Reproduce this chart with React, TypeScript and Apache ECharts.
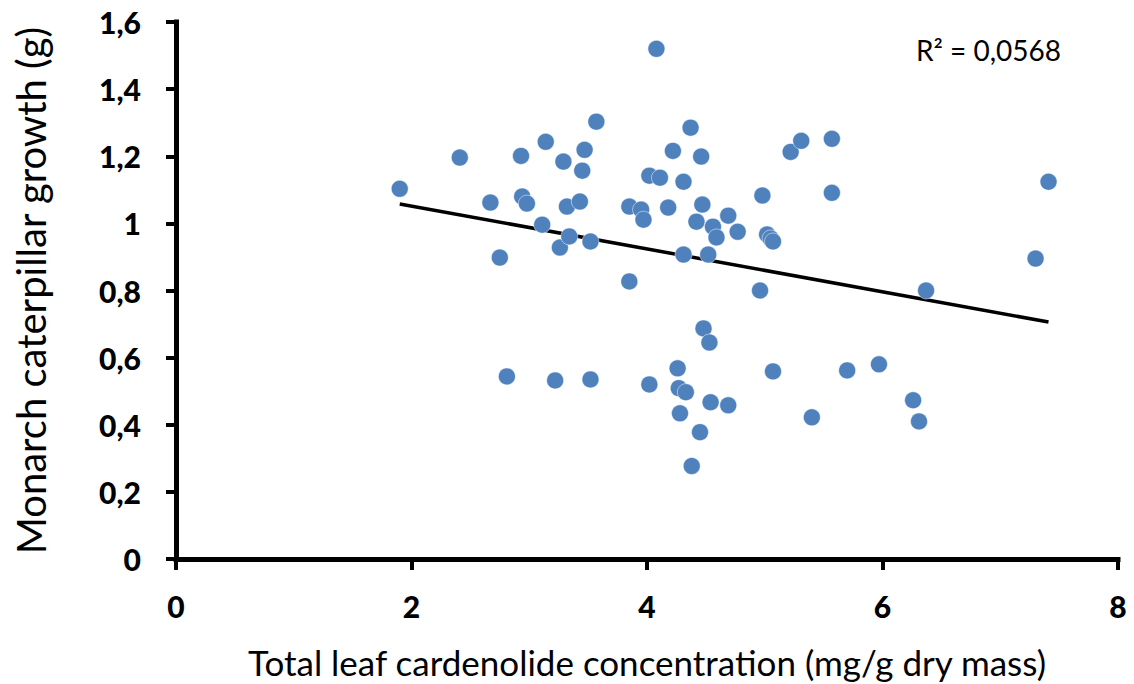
import React, { useEffect, useRef } from "react";
import * as echarts from "echarts";

// Leaf cardenolide concentration (mg/g dry mass)
const cardenolide = [
  1.9, 2.41, 2.67, 2.75, 2.81, 2.93, 2.94, 2.98, 3.11, 3.14,
  3.22, 3.26, 3.29, 3.32, 3.34, 3.43, 3.45, 3.47, 3.52, 3.52,
  3.57, 3.85, 3.85, 3.95, 3.97, 4.02, 4.02, 4.08, 4.11, 4.18,
  4.22, 4.26, 4.27, 4.28, 4.31, 4.31, 4.33, 4.37, 4.38, 4.42,
  4.45, 4.46, 4.47, 4.48, 4.52, 4.53, 4.54, 4.56, 4.59, 4.69,
  4.69, 4.77, 4.96, 4.98, 5.02, 5.05, 5.07, 5.07, 5.22, 5.31,
  5.4, 5.57, 5.57, 5.7, 5.97, 6.26, 6.31, 6.37, 7.3, 7.41,
];
// Monarch caterpillar growth (g)
const growth = [
  1.103, 1.196, 1.062, 0.898, 0.544, 1.201, 1.08, 1.059, 0.996, 1.243,
  0.532, 0.928, 1.184, 1.05, 0.961, 1.065, 1.157, 1.219, 0.946, 0.535,
  1.303, 0.827, 1.05, 1.041, 1.011, 0.52, 1.142, 1.52, 1.136, 1.047,
  1.216, 0.568, 0.509, 0.434, 1.124, 0.907, 0.497, 1.285, 0.277, 1.005,
  0.378, 1.199, 1.056, 0.687, 0.907, 0.645, 0.467, 0.99, 0.958, 0.458,
  1.023, 0.975, 0.8, 1.083, 0.967, 0.955, 0.946, 0.559, 1.213, 1.246,
  0.422, 1.252, 1.091, 0.562, 0.58, 0.473, 0.41, 0.8, 0.895, 1.124,
];
// Linear trend line end points
const trendX = [1.9, 7.41];
const trendY = [1.058, 0.706];

const xTickLabels = ["0", "2", "4", "6", "8"];
const yTickLabels = ["0", "0,2", "0,4", "0,6", "0,8", "1", "1,2", "1,4", "1,6"];
const rSquaredText = "R² = 0,0568";
const xTitle = "Total leaf cardenolide concentration (mg/g dry mass)";
const yTitle = "Monarch caterpillar growth (g)";

const FONT = "Lato, 'Open Sans', sans-serif";

export default function App() {
  const ref = useRef<HTMLDivElement>(null);
  useEffect(() => {
    if (!ref.current) return;
    const chart = echarts.init(ref.current, undefined, { renderer: "svg" });
    const points = cardenolide.map((x, i) => [x, growth[i]]);
    const trend = trendX.map((x, i) => [x, trendY[i]]);
    chart.setOption({
      animation: false,
      backgroundColor: "#ffffff",
      grid: { left: 176, right: 16, top: 22, bottom: 124, containLabel: false },
      xAxis: {
        type: "value",
        min: 0,
        max: 8,
        interval: 2,
        name: xTitle,
        nameLocation: "middle",
        nameGap: 85,
        nameTextStyle: { fontFamily: FONT, fontSize: 35, color: "#000" },
        axisLine: { show: true, onZero: false, lineStyle: { color: "#000", width: 5, cap: "square" } },
        axisTick: { show: true, length: 11, lineStyle: { color: "#000", width: 4 } },
        axisLabel: {
          margin: 32,
          fontFamily: FONT,
          fontWeight: 900,
          fontSize: 30,
          color: "#000",
          formatter: (v: number) => xTickLabels[Math.round(v / 2)] ?? "",
        },
        splitLine: { show: false },
      },
      yAxis: {
        type: "value",
        min: 0,
        max: 1.6,
        interval: 0.2,
        name: yTitle,
        nameLocation: "middle",
        nameGap: 125,
        nameTextStyle: { fontFamily: FONT, fontSize: 40, color: "#000" },
        axisLine: { show: true, onZero: false, lineStyle: { color: "#000", width: 5, cap: "square" } },
        axisTick: { show: true, length: 10, lineStyle: { color: "#000", width: 4 } },
        axisLabel: {
          margin: 35,
          fontFamily: FONT,
          fontWeight: 900,
          fontSize: 30,
          color: "#000",
          formatter: (v: number) => yTickLabels[Math.round(v / 0.2)] ?? "",
        },
        splitLine: { show: false },
      },
      series: [
        {
          type: "line",
          data: trend,
          symbol: "none",
          lineStyle: { color: "#000", width: 3.5 },
          z: 1,
        },
        {
          type: "scatter",
          data: points,
          symbol: "circle",
          symbolSize: 17,
          itemStyle: { color: "#4F81BD", borderColor: "#ffffff", borderWidth: 0.5, opacity: 1 },
          z: 2,
        },
      ],
      graphic: [
        {
          type: "text",
          left: 916,
          top: 36,
          style: {
            text: rSquaredText,
            fontFamily: FONT,
            fontSize: 28,
            fill: "#000",
          },
        },
      ],
    });
    return () => chart.dispose();
  }, []);
  return (
    <div
      ref={ref}
      style={{ position: "fixed", left: 0, top: 0, width: 1134, height: 684 }}
    />
  );
}
